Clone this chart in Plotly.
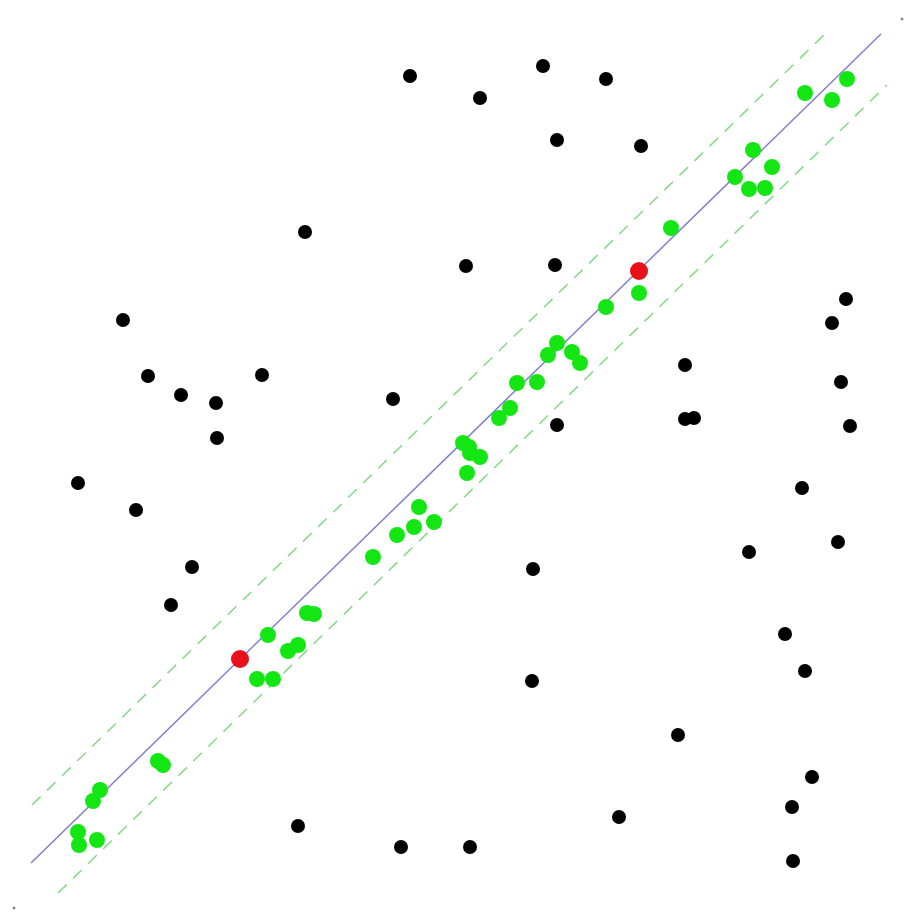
import plotly.graph_objects as go

# point positions (x to the right, y downward)
outlier_x = [410, 480, 543, 606, 557, 641, 305, 466, 555, 123, 148, 181, 216, 262, 217, 393,
             557, 685, 685, 694, 846, 832, 841, 850, 78, 136, 192, 171, 533, 532, 749, 802,
             838, 785, 805, 678, 812, 792, 619, 793, 298, 401, 470]
outlier_y = [76, 98, 66, 79, 140, 146, 232, 266, 265, 320, 376, 395, 403, 375, 438, 399,
             425, 365, 419, 418, 299, 323, 382, 426, 483, 510, 567, 605, 569, 681, 552, 488,
             542, 634, 671, 735, 777, 807, 817, 861, 826, 847, 847]

inlier_x = [847, 805, 832, 753, 772, 735, 749, 765, 671, 606, 639, 557, 548, 572, 580, 517,
            537, 510, 499, 463, 469, 470, 480, 467, 419, 434, 414, 397, 373, 307, 314, 268,
            298, 288, 257, 273, 158, 163, 100, 93, 78, 79, 97]
inlier_y = [79, 93, 100, 150, 167, 177, 189, 188, 228, 307, 293, 343, 355, 352, 363, 383,
            382, 408, 418, 443, 447, 453, 457, 473, 507, 522, 527, 535, 557, 613, 614, 635,
            645, 651, 679, 679, 761, 765, 790, 801, 832, 845, 840]

sample_x = [240, 639]
sample_y = [659, 271]

fit_x = [31, 881]
fit_y = [863, 34]
upper_x = [32, 826]
upper_y = [805, 33]
lower_x = [58, 887]
lower_y = [893, 85]

corner_x = [902, 14]
corner_y = [19, 908]

fig = go.Figure()
for bx, by in [(upper_x, upper_y), (lower_x, lower_y)]:
    fig.add_trace(go.Scatter(x=bx, y=by, mode="lines",
                             line=dict(color="#86d886", width=1.5, dash="12px,9px")))
fig.add_trace(go.Scatter(x=fit_x, y=fit_y, mode="lines",
                         line=dict(color="#8080cc", width=1.5)))
fig.add_trace(go.Scatter(x=outlier_x, y=outlier_y, mode="markers",
                         marker=dict(color="black", size=14, line_width=0)))
fig.add_trace(go.Scatter(x=inlier_x, y=inlier_y, mode="markers",
                         marker=dict(color="#14e614", size=16, line_width=0)))
fig.add_trace(go.Scatter(x=sample_x, y=sample_y, mode="markers",
                         marker=dict(color="#e8101a", size=18, line_width=0)))
fig.add_trace(go.Scatter(x=corner_x, y=corner_y, mode="markers",
                         marker=dict(color="#888888", size=3, line_width=0)))

fig.update_layout(
    width=907, height=917,
    showlegend=False,
    margin=dict(l=0, r=0, t=0, b=0),
    paper_bgcolor="white",
    plot_bgcolor="white",
    xaxis=dict(range=[0, 907], visible=False),
    yaxis=dict(range=[917, 0], visible=False),
)

# drop the page's default body margin so the figure sits at the window corner
fig.write_html("out.html", config={"displayModeBar": False},
               post_script="document.body.style.margin='0';document.body.style.overflow='hidden';")
